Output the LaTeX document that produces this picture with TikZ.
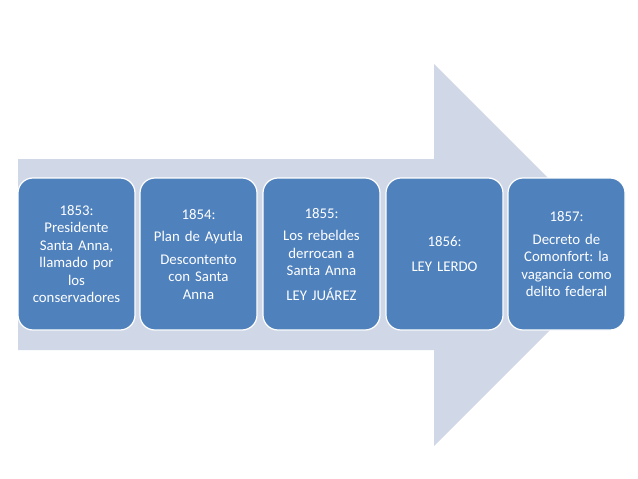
\documentclass[tikz,border=0pt]{standalone}
\usepackage{fontspec}
\setmainfont{Carlito}
\frenchspacing
\definecolor{flecha}{RGB}{208,216,232}
\definecolor{azulcaja}{RGB}{79,129,189}
\tikzset{
    caja/.style={draw=white, line width=1.2pt, fill=azulcaja, rounded corners=15pt,
        minimum width=117pt, minimum height=152pt, text width=110pt, align=center,
        text=white, font=\fontsize{14.8}{17.5}\selectfont},
}
\begin{document}
\begin{tikzpicture}[x=1pt, y=-1pt]
    \useasboundingbox (0,0) rectangle (638,479);

    % flecha de fondo
    \fill[flecha] (18,159) -- (434,159) -- (434,64) -- (625,255)
        -- (434,446) -- (434,350) -- (18,350) -- cycle;

    % cajas de la cronologia
    \node[caja] (c1853) at (76.5,254) {1853:\\Presidente\\Santa Anna,\\llamado por\\los\\conservadores};
    \node[caja] (c1854) at (198.5,254) {1854:\\[5pt]Plan de Ayutla\\[5pt]Descontento\\con Santa\\Anna};
    \node[caja] (c1855) at (321.5,254) {1855:\\[5pt]Los rebeldes\\derrocan a\\Santa Anna\\[7pt]LEY JUÁREZ};
    \node[caja] (c1856) at (444.5,254) {1856:\\[7pt]LEY LERDO};
    \node[caja] (c1857) at (566.5,254) {1857:\\[5pt]Decreto de\\Comonfort: la\\vagancia como\\delito federal};
\end{tikzpicture}
\end{document}
